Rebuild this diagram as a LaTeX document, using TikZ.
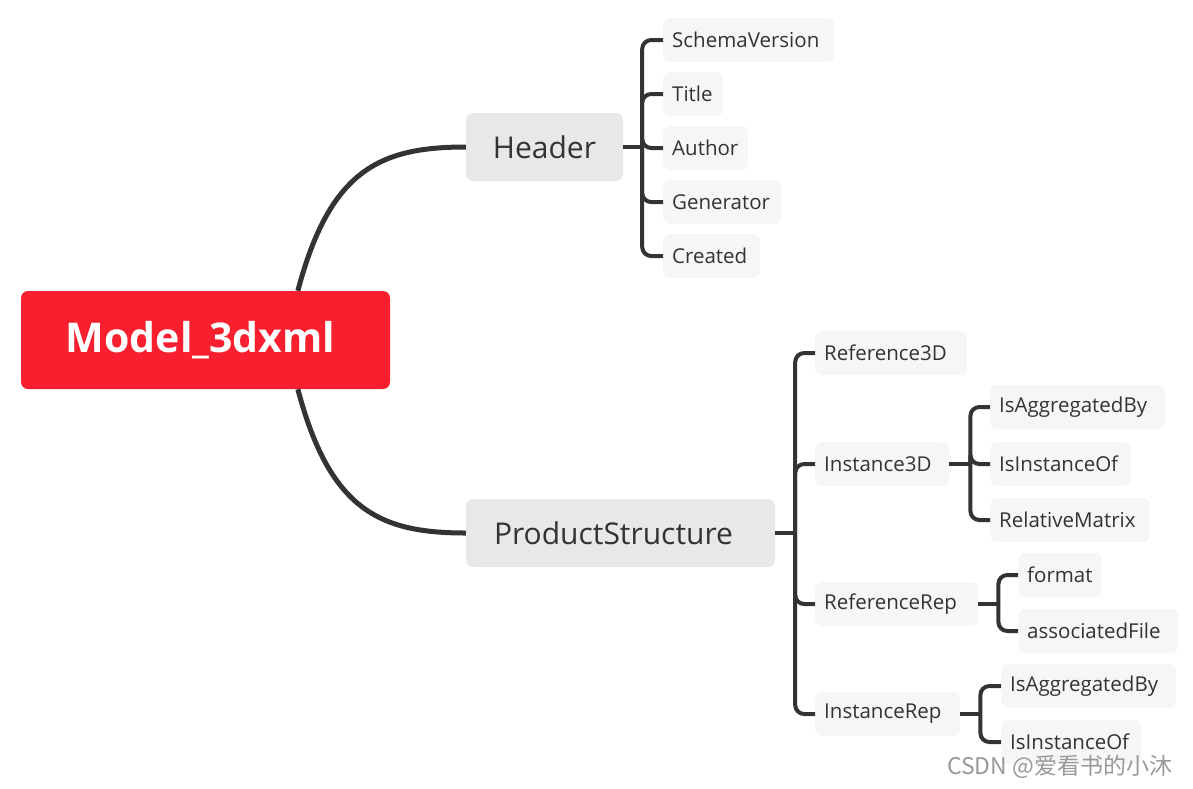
\documentclass[tikz,border=0pt]{standalone}
\usepackage{fontspec}
\setmainfont{Open Sans}
\newfontfamily\cjk{Noto Sans CJK SC}
\usetikzlibrary{calc}
\definecolor{rootred}{HTML}{F8202E}
\definecolor{topgray}{HTML}{E8E8E8}
\definecolor{kidgray}{HTML}{F6F6F6}
\definecolor{ink}{HTML}{333333}
\tikzset{
  rootbox/.style={fill=rootred, rounded corners=7pt, minimum width=369pt, minimum height=98pt, inner sep=0pt, text=white, font=\fontsize{41}{48}\selectfont\bfseries},
  topbox/.style={fill=topgray, rounded corners=7pt, minimum height=68pt, inner sep=0pt, text=ink, font=\fontsize{30}{34}\selectfont},
  kidbox/.style={fill=kidgray, rounded corners=7pt, minimum height=44pt, inner xsep=9pt, inner ysep=0pt, text=ink, align=left, anchor=west, font=\fontsize{20.5}{24}\selectfont},
  mainline/.style={draw=ink, line width=5pt},
  brline/.style={draw=ink, line width=4pt, rounded corners=9pt}
}
\begin{document}
\begin{tikzpicture}[x=1pt,y=-1pt]
\useasboundingbox (0,0) rectangle (1193,788);
% main nodes
\node[rootbox] (root) at (205.5,340) {\kern-10pt Model\_3dxml};
\node[topbox, minimum width=157pt] (header) at (544.5,147) {Header};
\node[topbox, minimum width=309pt] (ps) at (620.5,533) {\kern-14pt ProductStructure};
% header children
\node[kidbox, text width=153pt] (sv) at (663,40) {SchemaVersion};
\node[kidbox, text width=42pt] (title) at (663,94) {Title};
\node[kidbox, text width=67pt] (author) at (663,148) {Author};
\node[kidbox, text width=100pt] (gen) at (663,202) {Generator};
\node[kidbox, text width=79pt] (created) at (663,256) {Created};
% product children
\node[kidbox, text width=134pt] (r3d) at (815,353) {Reference3D};
\node[kidbox, text width=116pt] (i3d) at (815,464) {Instance3D};
\node[kidbox, text width=145pt] (rrep) at (815,604) {ReferenceRep};
\node[kidbox, text width=127pt] (irep) at (815,714) {InstanceRep};
% instance3d children
\node[kidbox, text width=157pt] (agga) at (990,407) {IsAggregatedBy};
\node[kidbox, text width=123pt] (insta) at (990,464) {IsInstanceOf};
\node[kidbox, text width=142pt] (rel) at (990,520) {RelativeMatrix};
% referencerep children
\node[kidbox, text width=66pt] (fmt) at (1018,575) {format};
\node[kidbox, text width=142pt] (af) at (1018,631) {associatedFile};
% instancerep children
\node[kidbox, text width=157pt] (aggb) at (1001,686) {IsAggregatedBy};
\node[kidbox, text width=122pt] (instb) at (1001,742) {IsInstanceOf};
% watermark
\node[anchor=west, inner sep=0pt, text=black!40, font=\cjk\fontsize{23}{26}\selectfont] (wm) at (947,767) {CSDN @爱看书的小沐};
% root curves
\coordinate (rtop) at ($(root.north east)!0.25!(root.north west)$);
\coordinate (rbot) at ($(root.south east)!0.25!(root.south west)$);
\draw[mainline] (rtop) .. controls ($(rtop)+(32,-121)$) and ($(header.west)+(-86,0)$) .. (header.west);
\draw[mainline] (rbot) .. controls ($(rbot)+(32,121)$) and ($(ps.west)+(-86,0)$) .. (ps.west);
% header bracket
\coordinate (hj) at ($(header.east)+(19,0)$);
\draw[brline] (header.east) -- (hj);
\foreach \k in {sv,title,author,gen,created} \draw[brline] (hj) |- (\k.west);
% product bracket
\coordinate (pj) at ($(ps.east)+(20,0)$);
\draw[brline] (ps.east) -- (pj);
\foreach \k in {r3d,i3d,rrep,irep} \draw[brline] (pj) |- (\k.west);
% instance3d bracket
\coordinate (ij) at ($(i3d.east)+(21,0)$);
\draw[brline] (i3d.east) -- (ij);
\foreach \k in {agga,insta,rel} \draw[brline] (ij) |- (\k.west);
% referencerep bracket
\coordinate (rj) at ($(rrep.east)+(20,0)$);
\draw[brline] (rrep.east) -- (rj);
\foreach \k in {fmt,af} \draw[brline] (rj) |- (\k.west);
% instancerep bracket
\coordinate (nj) at ($(irep.east)+(20,0)$);
\draw[brline] (irep.east) -- (nj);
\foreach \k in {aggb,instb} \draw[brline] (nj) |- (\k.west);
\end{tikzpicture}
\end{document}
